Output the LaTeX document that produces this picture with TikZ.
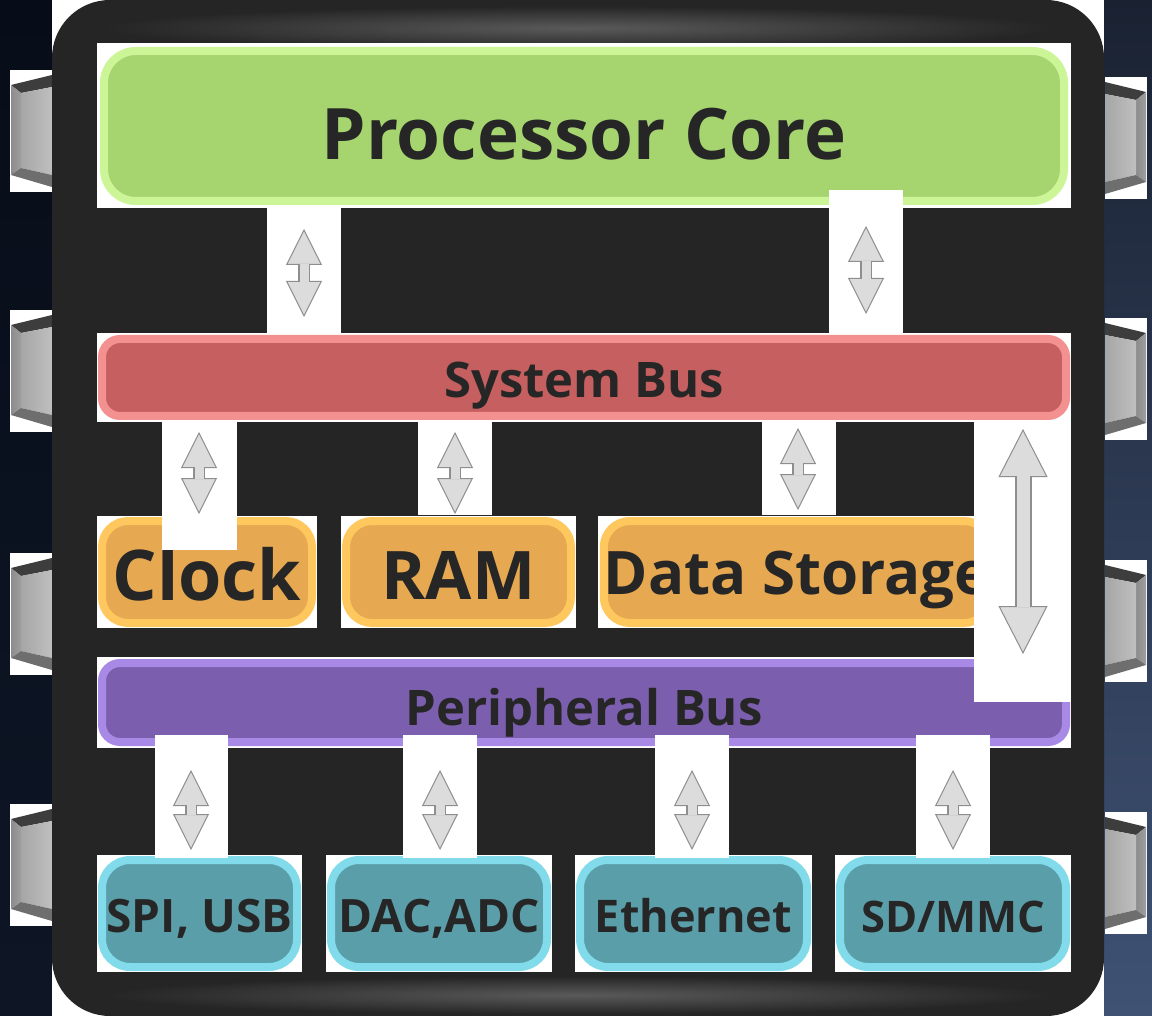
\documentclass[tikz,border=0pt]{standalone}
\usepackage{fontspec}
\IfFontExistsTF{Open Sans SemiBold}{\setmainfont{Open Sans}[BoldFont={Open Sans SemiBold}]}{\setmainfont{Open Sans}}
\usetikzlibrary{arrows.meta,fadings}

\definecolor{chipbody}{HTML}{252525}
\definecolor{chipgloss}{HTML}{5A5A5A}
\definecolor{labeltext}{HTML}{262626}
\definecolor{boardleft}{HTML}{070D18}
\definecolor{boardleftlow}{HTML}{0E1626}
\definecolor{boardright}{HTML}{1A2232}
\definecolor{boardrightlow}{HTML}{3F5274}
\definecolor{coregreen}{HTML}{A6D56F}
\definecolor{coreedge}{HTML}{CBF596}
\definecolor{busred}{HTML}{C65F5F}
\definecolor{busredge}{HTML}{F39090}
\definecolor{memorange}{HTML}{E6A850}
\definecolor{memedge}{HTML}{FFC85E}
\definecolor{busviolet}{HTML}{7B5FAE}
\definecolor{busvedge}{HTML}{A88AE6}
\definecolor{iocyan}{HTML}{5A9EAA}
\definecolor{ioedge}{HTML}{82DBEA}
\definecolor{arrowface}{HTML}{DCDCDC}
\definecolor{arrowedge}{HTML}{8E8E8E}

\tikzset{
	block/.style={line width=8pt, text=labeltext, inner sep=0pt, anchor=center, text depth=0pt},
	corebox/.style={block, draw=coreedge, fill=coregreen, rounded corners=32pt},
	sysbusbox/.style={block, draw=busredge, fill=busred, rounded corners=18pt},
	membox/.style={block, draw=memedge, fill=memorange, rounded corners=26pt},
	perbusbox/.style={block, draw=busvedge, fill=busviolet, rounded corners=18pt},
	iobox/.style={block, draw=ioedge, fill=iocyan, rounded corners=28pt},
	backing/.style={fill=white},
	gloss/.style={fill=chipgloss, path fading=glowband},
	busarrow/.style={line width=12pt, draw=arrowedge,
		{Triangle[width=36pt,length=36pt,fill=arrowface,line width=1pt]}-{Triangle[width=36pt,length=36pt,fill=arrowface,line width=1pt]},
		postaction={draw=arrowface, line width=9pt, -, shorten <=35pt, shorten >=35pt}},
	longarrow/.style={line width=17pt, draw=arrowedge,
		{Triangle[width=49pt,length=48pt,fill=arrowface,line width=1pt]}-{Triangle[width=49pt,length=48pt,fill=arrowface,line width=1pt]},
		postaction={draw=arrowface, line width=13pt, -, shorten <=47pt, shorten >=47pt}},
	chippin/.pic={
		\fill[white] (0,0) rectangle (42,122);
		\fill[black!76] (1,15) -- (42,5) -- (42,17) -- (11,23) -- cycle; % top bevel
		\shade[left color=black!45, right color=black!38] (1,15) -- (11,23) -- (11,98) -- (1,105) -- cycle; % side face
		\shade[left color=black!35, right color=black!25] (11,23) -- (42,17) -- (42,105) -- (11,98) -- cycle; % front face
		\fill[black!57] (1,105) -- (11,98) -- (42,105) -- (42,117) -- cycle; % bottom bevel
	}
}
\tikzfading[name=glowband, inner color=transparent!0, outer color=transparent!100]

\begin{document}
\begin{tikzpicture}[x=1pt,y=-1pt]
					\useasboundingbox (0,0) rectangle (1152,1016);
					
					% Board behind the chip
					\shade[top color=boardleft, bottom color=boardleftlow] (0,0) rectangle (52,1016);
					\shade[top color=boardright, bottom color=boardrightlow] (1104,0) rectangle (1152,1016);
					
					% Pins on both sides
					\foreach \py in {70,310,553,804}
						\pic at (10,\py) {chippin};
					\foreach \py in {77,318,560,812}
						\pic[xscale=-1] at (1147,\py) {chippin};
					
					% Chip body
					\fill[white] (52,0) rectangle (1104,1016);
					\fill[chipbody, rounded corners=58pt] (52,0) rectangle (1104,1016);
					\fill[gloss] (100,6) rectangle (1056,50); % top gloss
					\fill[gloss] (100,976) rectangle (1056,1014); % bottom gloss
					
					% White backing of the blocks
					\fill[backing] (97,43) rectangle (1071,208);
					\fill[backing] (97,333) rectangle (1071,422);
					\fill[backing] (97,516) rectangle (317,628);
					\fill[backing] (341,516) rectangle (576,628);
					\fill[backing] (598,516) rectangle (990,628);
					\fill[backing] (97,657) rectangle (1071,748);
					\fill[backing] (97,855) rectangle (302,972);
					\fill[backing] (326,855) rectangle (552,972);
					\fill[backing] (575,855) rectangle (812,972);
					\fill[backing] (835,855) rectangle (1071,972);
					
					% Blocks
					\node[corebox, minimum width=960pt, minimum height=150pt, text height=68pt, font=\bfseries\fontsize{71}{76}\selectfont] (core) at (584,126) {Processor Core};
					\node[sysbusbox, minimum width=964pt, minimum height=77pt, text height=41pt, font=\bfseries\fontsize{49}{54}\selectfont] (sysbus) at (584,377.5) {System Bus};
					\node[membox, minimum width=210pt, minimum height=102pt, text height=56pt, font=\bfseries\fontsize{70}{76}\selectfont] (clock) at (207,572) {Clock};
					\node[membox, minimum width=225pt, minimum height=102pt, text height=54pt, font=\bfseries\fontsize{67}{72}\selectfont] (ram) at (458.5,572) {RAM};
					\node[membox, minimum width=381pt, minimum height=102pt, text height=44pt, font=\bfseries\fontsize{60}{66}\selectfont] (storage) at (797,572) {Data Storage};
					\node[perbusbox, minimum width=964pt, minimum height=79pt, text height=45pt, font=\bfseries\fontsize{49}{54}\selectfont] (perbus) at (584,702.5) {Peripheral Bus};
					\node[iobox, minimum width=195pt, minimum height=107pt, text height=37pt, font=\bfseries\fontsize{46}{52}\selectfont] (spi) at (199.5,913.5) {SPI, USB};
					\node[iobox, minimum width=216pt, minimum height=107pt, text height=37pt, font=\bfseries\fontsize{46}{52}\selectfont] (dac) at (439,913.5) {DAC,ADC};
					\node[iobox, minimum width=227pt, minimum height=107pt, text height=37pt, font=\bfseries\fontsize{45}{50}\selectfont] (eth) at (693.5,913.5) {Ethernet};
					\node[iobox, minimum width=226pt, minimum height=107pt, text height=37pt, font=\bfseries\fontsize{43.5}{50}\selectfont] (sdmmc) at (953,913.5) {SD/MMC};
					
					% White backing of the arrows
					\fill[backing] (267,208) rectangle (341,333);
					\fill[backing] (829,190) rectangle (903,333);
					\fill[backing] (162,422) rectangle (237,550);
					\fill[backing] (418,422) rectangle (492,515);
					\fill[backing] (762,422) rectangle (836,515);
					\fill[backing] (974,422) rectangle (1071,702);
					\fill[backing] (155,735) rectangle (228,858);
					\fill[backing] (403,735) rectangle (477,858);
					\fill[backing] (655,735) rectangle (729,858);
					\fill[backing] (916,735) rectangle (990,858);
					
					% Arrow ends
					\coordinate (coreL) at (304,229);   \coordinate (busL) at (304,317);
					\coordinate (coreR) at (866,226);   \coordinate (busR) at (866,314);
					\coordinate (clockT) at (199,432);  \coordinate (clockB) at (199,514);
					\coordinate (ramT) at (455,432);    \coordinate (ramB) at (455,514);
					\coordinate (storeT) at (798,428);  \coordinate (storeB) at (798,510);
					\coordinate (longT) at (1023,429);  \coordinate (longB) at (1023,654);
					\coordinate (spiT) at (191,770);    \coordinate (spiB) at (191,850);
					\coordinate (dacT) at (440,770);    \coordinate (dacB) at (440,850);
					\coordinate (ethT) at (692,770);    \coordinate (ethB) at (692,850);
					\coordinate (sdT) at (953,770);     \coordinate (sdB) at (953,850);
					
					% Arrows
					\draw[busarrow] (coreL) -- (busL);
					\draw[busarrow] (coreR) -- (busR);
					\draw[busarrow] (clockT) -- (clockB);
					\draw[busarrow] (ramT) -- (ramB);
					\draw[busarrow] (storeT) -- (storeB);
					\draw[longarrow] (longT) -- (longB);
					\draw[busarrow] (spiT) -- (spiB);
					\draw[busarrow] (dacT) -- (dacB);
					\draw[busarrow] (ethT) -- (ethB);
					\draw[busarrow] (sdT) -- (sdB);
				\end{tikzpicture}
\end{document}
